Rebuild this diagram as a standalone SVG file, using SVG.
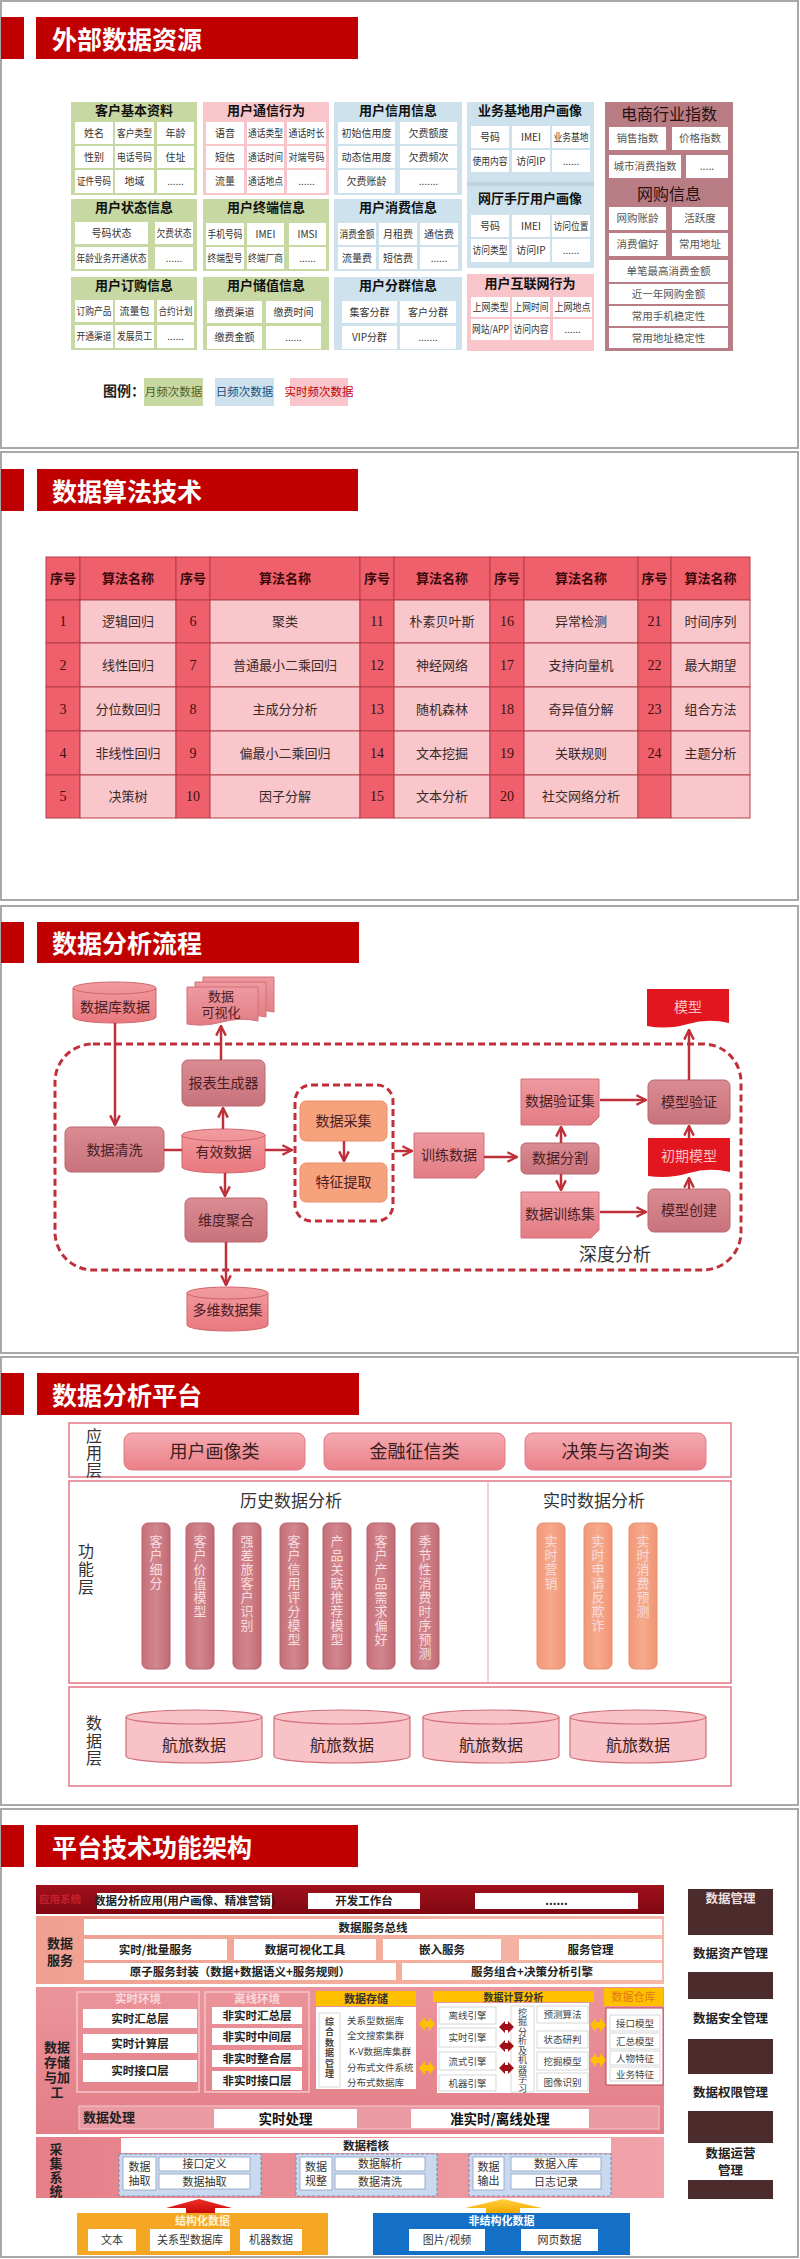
<svg xmlns="http://www.w3.org/2000/svg" width="800" height="2259" viewBox="0 0 800 2259">
<defs>
<style>
text{font-family:"Noto Sans CJK SC","Noto Sans",sans-serif}
.slide{fill:#fff;stroke:#a8a8a8;stroke-width:2}
.hdr{fill:#C00000}
.ht{font-size:25px;font-weight:bold;fill:#fff}
.w{fill:#fff}
.g{fill:#C7D8A3}
.p{fill:#F8C6CA}
.b{fill:#CDE2ED}
.m{fill:#B87C84}
.c1{font-size:10px;fill:#333;text-anchor:middle}
.c5{font-size:10.5px;fill:#555;text-anchor:middle}
.t1{font-size:13px;font-weight:bold;fill:#111;text-anchor:middle}
.t5{font-size:16px;fill:#2a1212;text-anchor:middle}
.th{fill:#EF5F6C;stroke:#B53E49;stroke-width:1}
.tn{fill:#EF5F6C;stroke:#B53E49;stroke-width:1}
.tb{fill:#F9C6CB;stroke:#B53E49;stroke-width:1}
.tht{font-size:13px;font-weight:bold;fill:#3a0a0a;text-anchor:middle}
.tt{font-size:13px;fill:#3a2a2a;text-anchor:middle}
.tnum{font-family:"Liberation Serif",serif;font-size:14px;fill:#3a1010;text-anchor:middle}
.rr{fill:url(#gMauve);stroke:#B86870;stroke-width:1}
.cy{fill:url(#gCyl);stroke:#D0656B;stroke-width:1}
.dc{fill:url(#gDoc);stroke:#D07078;stroke-width:1}
.or{fill:#F6A27D;stroke:#E8906A;stroke-width:1}
.rd{fill:#E3161F}
.nt{font-size:14px;fill:#4a2025;text-anchor:middle}
.cn{fill:none;stroke:#C0303A;stroke-width:2.5}
.dash{fill:none;stroke:#C0303A;stroke-width:3;stroke-dasharray:7 4}
.lay{fill:#fff;stroke:#E27584;stroke-width:1.5}
.vl{font-size:16px;fill:#333;writing-mode:vertical-rl;text-orientation:upright}
.pill{fill:url(#gPill);stroke:#E07C86;stroke-width:1}
.pt{font-size:18px;fill:#3a2020;text-anchor:middle}
.vp{fill:url(#gVp);stroke:#B5626B;stroke-width:1}
.vo{fill:url(#gVo);stroke:#E89070;stroke-width:1}
.vt{font-size:13px;fill:#F8DCDE;writing-mode:vertical-rl;text-orientation:upright;letter-spacing:1px}
.sub{font-size:17px;fill:#333;text-anchor:middle}
.dcy{fill:#F8C2C6;stroke:#D0707A;stroke-width:1.2}
.dt{font-size:16px;fill:#3a2020;text-anchor:middle}
.s5w{fill:#fff}
.s5b{font-size:11.5px;font-weight:bold;fill:#222;text-anchor:middle}
.s5l{font-size:13px;font-weight:bold;fill:#222;text-anchor:middle}
.s5s{font-size:9.5px;fill:#444;text-anchor:middle}
.s5sl{font-size:9.5px;fill:#444}
.s5v{font-size:9px;fill:#444;writing-mode:vertical-rl;text-orientation:upright}
.yh{fill:#FFC000}
.env{fill:none;stroke:#F4C4C8;stroke-width:1.5}
.envt{font-size:11.5px;font-weight:bold;fill:#F9DADC;text-anchor:middle}
.grp{fill:#C9D9F0;stroke:#7F90B8;stroke-width:1.2;stroke-dasharray:3 2}
.gc{fill:#fff;stroke:#8FA0C0;stroke-width:0.8}
.gt{font-size:11px;fill:#333;text-anchor:middle}
.dm{fill:#4B2B2B}
.dmt{font-size:12.5px;font-weight:bold;fill:#222;text-anchor:middle}
</style>
<linearGradient id="gMauve" x1="0" y1="0" x2="0" y2="1"><stop offset="0" stop-color="#DA8B92"/><stop offset="1" stop-color="#C9737C"/></linearGradient>
<linearGradient id="gCyl" x1="0" y1="0" x2="0" y2="1"><stop offset="0" stop-color="#F19CA0"/><stop offset="1" stop-color="#E9787E"/></linearGradient>
<linearGradient id="gDoc" x1="0" y1="0" x2="0" y2="1"><stop offset="0" stop-color="#EE9AA0"/><stop offset="1" stop-color="#E37C84"/></linearGradient>
<linearGradient id="gPill" x1="0" y1="0" x2="0" y2="1"><stop offset="0" stop-color="#F4AAB0"/><stop offset="1" stop-color="#EB7F88"/></linearGradient>
<linearGradient id="gVp" x1="0" y1="0" x2="1" y2="0"><stop offset="0" stop-color="#C56F79"/><stop offset="0.5" stop-color="#D2868E"/><stop offset="1" stop-color="#C06A74"/></linearGradient>
<linearGradient id="gVo" x1="0" y1="0" x2="1" y2="0"><stop offset="0" stop-color="#F29878"/><stop offset="0.5" stop-color="#F6AA8C"/><stop offset="1" stop-color="#F09474"/></linearGradient>
<linearGradient id="gApp" x1="0" y1="0" x2="0" y2="1"><stop offset="0" stop-color="#A0101C"/><stop offset="1" stop-color="#800812"/></linearGradient>
<linearGradient id="gSvc" x1="0" y1="0" x2="1" y2="0"><stop offset="0" stop-color="#F0A090"/><stop offset="1" stop-color="#F6B8A8"/></linearGradient>
<linearGradient id="gSto" x1="0" y1="0" x2="0" y2="1"><stop offset="0" stop-color="#EC949B"/><stop offset="1" stop-color="#E27E88"/></linearGradient>
<linearGradient id="gCol" x1="0" y1="0" x2="1" y2="0"><stop offset="0" stop-color="#E57F89"/><stop offset="1" stop-color="#F1A3A9"/></linearGradient>
<linearGradient id="gRedA" x1="0" y1="0" x2="0" y2="1"><stop offset="0" stop-color="#F0302A"/><stop offset="1" stop-color="#C80808"/></linearGradient>
<linearGradient id="gYelA" x1="0" y1="0" x2="0" y2="1"><stop offset="0" stop-color="#FFD040"/><stop offset="1" stop-color="#F5A800"/></linearGradient>
<marker id="ar" viewBox="0 0 10 10" refX="9" refY="5" markerWidth="12" markerHeight="12" markerUnits="userSpaceOnUse" orient="auto"><path d="M1,1 L9,5 L1,9" fill="none" stroke="#C0303A" stroke-width="2"/></marker>
</defs>

<!-- ================= Slide 1 ================= -->
<g id="slide1">
<rect class="slide" x="1" y="1" width="797" height="447"/>
<rect class="hdr" x="1" y="17" width="23" height="42"/>
<rect class="hdr" x="36" y="17" width="322" height="42"/>
<text class="ht" x="52" y="49">外部数据资源</text>
</g>

<g id="n-khjbzl">
<rect class="g" x="71" y="102" width="126" height="93"/>
<text class="t1" x="134" y="115">客户基本资料</text>
<rect class="w" x="75" y="122" width="38" height="22"/><text class="c1" x="94" y="136.5">姓名</text>
<rect class="w" x="115" y="122" width="39" height="22"/><text class="c1" x="134.5" y="136.5" textLength="35" lengthAdjust="spacingAndGlyphs">客户类型</text>
<rect class="w" x="157" y="122" width="37" height="22"/><text class="c1" x="175.5" y="136.5">年龄</text>
<rect class="w" x="75" y="146" width="38" height="22"/><text class="c1" x="94" y="160.5">性别</text>
<rect class="w" x="115" y="146" width="39" height="22"/><text class="c1" x="134.5" y="160.5" textLength="35" lengthAdjust="spacingAndGlyphs">电话号码</text>
<rect class="w" x="157" y="146" width="37" height="22"/><text class="c1" x="175.5" y="160.5">住址</text>
<rect class="w" x="75" y="170" width="38" height="23"/><text class="c1" x="94" y="185" textLength="34" lengthAdjust="spacingAndGlyphs">证件号码</text>
<rect class="w" x="115" y="170" width="39" height="23"/><text class="c1" x="134.5" y="185">地域</text>
<rect class="w" x="157" y="170" width="37" height="23"/><text class="c1" x="175.5" y="185">......</text>
</g>
<g id="n-yhztxx">
<rect class="g" x="71" y="199" width="126" height="72"/>
<text class="t1" x="134" y="212">用户状态信息</text>
<rect class="w" x="75" y="222" width="73" height="22"/><text class="c1" x="111.5" y="236.5">号码状态</text>
<rect class="w" x="155" y="222" width="38" height="22"/><text class="c1" x="174" y="236.5" textLength="35" lengthAdjust="spacingAndGlyphs">欠费状态</text>
<rect class="w" x="75" y="247" width="73" height="22"/><text class="c1" x="111.5" y="261.5" textLength="70" lengthAdjust="spacingAndGlyphs">年龄业务开通状态</text>
<rect class="w" x="155" y="247" width="38" height="22"/><text class="c1" x="174" y="261.5">......</text>
</g>
<g id="n-yhdgxx">
<rect class="g" x="71" y="277" width="126" height="73"/>
<text class="t1" x="134" y="290">用户订购信息</text>
<rect class="w" x="75" y="300" width="38" height="22"/><text class="c1" x="94" y="314.5" textLength="35" lengthAdjust="spacingAndGlyphs">订购产品</text>
<rect class="w" x="115" y="300" width="39" height="22"/><text class="c1" x="134.5" y="314.5">流量包</text>
<rect class="w" x="157" y="300" width="37" height="22"/><text class="c1" x="175.5" y="314.5" textLength="34" lengthAdjust="spacingAndGlyphs">合约计划</text>
<rect class="w" x="75" y="325" width="38" height="23"/><text class="c1" x="94" y="340" textLength="35" lengthAdjust="spacingAndGlyphs">开通渠道</text>
<rect class="w" x="115" y="325" width="39" height="23"/><text class="c1" x="134.5" y="340" textLength="35" lengthAdjust="spacingAndGlyphs">发展员工</text>
<rect class="w" x="157" y="325" width="37" height="23"/><text class="c1" x="175.5" y="340">......</text>
</g>

<g id="n-yhtxxw">
<rect class="p" x="203" y="102" width="126" height="93"/>
<text class="t1" x="266" y="115">用户通信行为</text>
<rect class="w" x="206" y="122" width="38" height="22"/><text class="c1" x="225" y="136.5">语音</text>
<rect class="w" x="247" y="122" width="37" height="22"/><text class="c1" x="265.5" y="136.5" textLength="35" lengthAdjust="spacingAndGlyphs">通话类型</text>
<rect class="w" x="287" y="122" width="39" height="22"/><text class="c1" x="306.5" y="136.5" textLength="36" lengthAdjust="spacingAndGlyphs">通话时长</text>
<rect class="w" x="206" y="146" width="38" height="22"/><text class="c1" x="225" y="160.5">短信</text>
<rect class="w" x="247" y="146" width="37" height="22"/><text class="c1" x="265.5" y="160.5" textLength="35" lengthAdjust="spacingAndGlyphs">通话时间</text>
<rect class="w" x="287" y="146" width="39" height="22"/><text class="c1" x="306.5" y="160.5" textLength="36" lengthAdjust="spacingAndGlyphs">对端号码</text>
<rect class="w" x="206" y="170" width="38" height="23"/><text class="c1" x="225" y="185">流量</text>
<rect class="w" x="247" y="170" width="37" height="23"/><text class="c1" x="265.5" y="185" textLength="35" lengthAdjust="spacingAndGlyphs">通话地点</text>
<rect class="w" x="287" y="170" width="39" height="23"/><text class="c1" x="306.5" y="185">......</text>
</g>
<g id="n-yhzdxx">
<rect class="g" x="203" y="199" width="126" height="72"/>
<text class="t1" x="266" y="212">用户终端信息</text>
<rect class="w" x="206" y="223" width="38" height="22"/><text class="c1" x="225" y="237.5" textLength="35" lengthAdjust="spacingAndGlyphs">手机号码</text>
<rect class="w" x="247" y="223" width="37" height="22"/><text class="c1" x="265.5" y="237.5">IMEI</text>
<rect class="w" x="289" y="223" width="37" height="22"/><text class="c1" x="307.5" y="237.5">IMSI</text>
<rect class="w" x="206" y="247" width="38" height="22"/><text class="c1" x="225" y="261.5" textLength="35" lengthAdjust="spacingAndGlyphs">终端型号</text>
<rect class="w" x="247" y="247" width="37" height="22"/><text class="c1" x="265.5" y="261.5" textLength="35" lengthAdjust="spacingAndGlyphs">终端厂商</text>
<rect class="w" x="289" y="247" width="37" height="22"/><text class="c1" x="307.5" y="261.5">......</text>
</g>
<g id="n-yhczxx">
<rect class="g" x="203" y="277" width="126" height="73"/>
<text class="t1" x="266" y="290">用户储值信息</text>
<rect class="w" x="207" y="301" width="55" height="22"/><text class="c1" x="234.5" y="315.5">缴费渠道</text>
<rect class="w" x="266" y="301" width="55" height="22"/><text class="c1" x="293.5" y="315.5">缴费时间</text>
<rect class="w" x="207" y="326" width="55" height="23"/><text class="c1" x="234.5" y="341">缴费金额</text>
<rect class="w" x="266" y="326" width="55" height="23"/><text class="c1" x="293.5" y="341">......</text>
</g>

<g id="n-yhxyxx">
<rect class="b" x="334" y="102" width="128" height="93"/>
<text class="t1" x="398" y="115">用户信用信息</text>
<rect class="w" x="338" y="122" width="57" height="22"/><text class="c1" x="366.5" y="136.5">初始信用度</text>
<rect class="w" x="400" y="122" width="57" height="22"/><text class="c1" x="428.5" y="136.5">欠费额度</text>
<rect class="w" x="338" y="146" width="57" height="22"/><text class="c1" x="366.5" y="160.5">动态信用度</text>
<rect class="w" x="400" y="146" width="57" height="22"/><text class="c1" x="428.5" y="160.5">欠费频次</text>
<rect class="w" x="338" y="170" width="57" height="23"/><text class="c1" x="366.5" y="185">欠费账龄</text>
<rect class="w" x="400" y="170" width="57" height="23"/><text class="c1" x="428.5" y="185">.......</text>
</g>
<g id="n-yhxfxx">
<rect class="b" x="334" y="199" width="128" height="72"/>
<text class="t1" x="398" y="212">用户消费信息</text>
<rect class="w" x="338" y="223" width="38" height="22"/><text class="c1" x="357" y="237.5" textLength="35" lengthAdjust="spacingAndGlyphs">消费金额</text>
<rect class="w" x="379" y="223" width="38" height="22"/><text class="c1" x="398" y="237.5">月租费</text>
<rect class="w" x="420" y="223" width="38" height="22"/><text class="c1" x="439" y="237.5">通信费</text>
<rect class="w" x="338" y="247" width="38" height="22"/><text class="c1" x="357" y="261.5">流量费</text>
<rect class="w" x="379" y="247" width="38" height="22"/><text class="c1" x="398" y="261.5">短信费</text>
<rect class="w" x="420" y="247" width="38" height="22"/><text class="c1" x="439" y="261.5">......</text>
</g>
<g id="n-yhfqxx">
<rect class="b" x="334" y="277" width="128" height="73"/>
<text class="t1" x="398" y="290">用户分群信息</text>
<rect class="w" x="342" y="301" width="55" height="22"/><text class="c1" x="369.5" y="315.5">集客分群</text>
<rect class="w" x="400" y="301" width="56" height="22"/><text class="c1" x="428" y="315.5">客户分群</text>
<rect class="w" x="342" y="326" width="55" height="23"/><text class="c1" x="369.5" y="341">VIP分群</text>
<rect class="w" x="400" y="326" width="56" height="23"/><text class="c1" x="428" y="341">.......</text>
</g>

<g id="n-ywjd">
<rect class="b" x="467" y="102" width="127" height="80"/>
<text class="t1" x="530" y="115">业务基地用户画像</text>
<rect class="w" x="471" y="126" width="38" height="22"/><text class="c1" x="490" y="140.5">号码</text>
<rect class="w" x="512" y="126" width="38" height="22"/><text class="c1" x="531" y="140.5">IMEI</text>
<rect class="w" x="552" y="126" width="38" height="22"/><text class="c1" x="571" y="140.5" textLength="35" lengthAdjust="spacingAndGlyphs">业务基地</text>
<rect class="w" x="471" y="150" width="38" height="22"/><text class="c1" x="490" y="164.5" textLength="35" lengthAdjust="spacingAndGlyphs">使用内容</text>
<rect class="w" x="512" y="150" width="38" height="22"/><text class="c1" x="531" y="164.5">访问IP</text>
<rect class="w" x="552" y="150" width="38" height="22"/><text class="c1" x="571" y="164.5">......</text>
</g>
<g id="n-wtst">
<rect fill="#BFD3DE" x="467" y="182" width="127" height="4"/>
<rect class="b" x="467" y="186" width="127" height="82"/>
<text class="t1" x="530" y="203">网厅手厅用户画像</text>
<rect class="w" x="471" y="215" width="38" height="22"/><text class="c1" x="490" y="229.5">号码</text>
<rect class="w" x="512" y="215" width="38" height="22"/><text class="c1" x="531" y="229.5">IMEI</text>
<rect class="w" x="552" y="215" width="38" height="22"/><text class="c1" x="571" y="229.5" textLength="35" lengthAdjust="spacingAndGlyphs">访问位置</text>
<rect class="w" x="471" y="239" width="38" height="23"/><text class="c1" x="490" y="254" textLength="35" lengthAdjust="spacingAndGlyphs">访问类型</text>
<rect class="w" x="512" y="239" width="38" height="23"/><text class="c1" x="531" y="254">访问IP</text>
<rect class="w" x="552" y="239" width="38" height="23"/><text class="c1" x="571" y="254">......</text>
</g>
<g id="n-yhhlw">
<rect class="p" x="467" y="274" width="127" height="77"/>
<text class="t1" x="530" y="288">用户互联网行为</text>
<rect class="w" x="471" y="297" width="39" height="20"/><text class="c1" x="490.5" y="310.5" textLength="36" lengthAdjust="spacingAndGlyphs">上网类型</text>
<rect class="w" x="512" y="297" width="38" height="20"/><text class="c1" x="531" y="310.5" textLength="35" lengthAdjust="spacingAndGlyphs">上网时间</text>
<rect class="w" x="553" y="297" width="39" height="20"/><text class="c1" x="572.5" y="310.5" textLength="36" lengthAdjust="spacingAndGlyphs">上网地点</text>
<rect class="w" x="471" y="319" width="39" height="21"/><text class="c1" x="490.5" y="333" textLength="37" lengthAdjust="spacingAndGlyphs">网站/APP</text>
<rect class="w" x="512" y="319" width="38" height="21"/><text class="c1" x="531" y="333" textLength="35" lengthAdjust="spacingAndGlyphs">访问内容</text>
<rect class="w" x="553" y="319" width="39" height="21"/><text class="c1" x="572.5" y="333">......</text>
</g>

<g id="n-dshy">
<rect class="m" x="605" y="102" width="128" height="249"/>
<text class="t5" x="669" y="120">电商行业指数</text>
<rect class="w" x="609" y="127" width="57" height="23"/><text class="c5" x="637.5" y="142">销售指数</text>
<rect class="w" x="672" y="127" width="56" height="23"/><text class="c5" x="700" y="142">价格指数</text>
<rect class="w" x="609" y="155" width="72" height="23"/><text class="c5" x="645" y="170">城市消费指数</text>
<rect class="w" x="686" y="155" width="42" height="23"/><text class="c5" x="707" y="170">.....</text>
<text class="t5" x="669" y="200">网购信息</text>
<rect class="w" x="609" y="207" width="57" height="23"/><text class="c5" x="637.5" y="222">网购账龄</text>
<rect class="w" x="672" y="207" width="56" height="23"/><text class="c5" x="700" y="222">活跃度</text>
<rect class="w" x="609" y="233" width="57" height="23"/><text class="c5" x="637.5" y="248">消费偏好</text>
<rect class="w" x="672" y="233" width="56" height="23"/><text class="c5" x="700" y="248">常用地址</text>
<rect class="w" x="609" y="260" width="119" height="22"/><text class="c5" x="668.5" y="274.5">单笔最高消费金额</text>
<rect class="w" x="609" y="284" width="119" height="20"/><text class="c5" x="668.5" y="297.5">近一年网购金额</text>
<rect class="w" x="609" y="306" width="119" height="20"/><text class="c5" x="668.5" y="319.5">常用手机稳定性</text>
<rect class="w" x="609" y="328" width="119" height="20"/><text class="c5" x="668.5" y="341.5">常用地址稳定性</text>
</g>

<g id="legend">
<text x="103" y="396" font-size="14" font-weight="bold" fill="#222">图例：</text>
<rect class="g" x="144" y="378" width="59" height="28"/><text x="173.5" y="396" font-size="11.5" fill="#4F6228" text-anchor="middle">月频次数据</text>
<rect class="b" x="215" y="378" width="59" height="28"/><text x="244.5" y="396" font-size="11.5" fill="#1F4E79" text-anchor="middle">日频次数据</text>
<rect class="p" x="290" y="378" width="58" height="28"/><text x="319" y="396" font-size="11.5" fill="#C00000" text-anchor="middle">实时频次数据</text>
</g>

<!-- ================= Slide 2 ================= -->
<g id="slide2">
<rect class="slide" x="1" y="452" width="797" height="448"/>
<rect class="hdr" x="1" y="469" width="23" height="42"/>
<rect class="hdr" x="37" y="469" width="321" height="42"/>
<text class="ht" x="52" y="501">数据算法技术</text>
</g>
<g id="n-table">
<rect class="th" x="46" y="557" width="34" height="43"/><rect class="th" x="80" y="557" width="96" height="43"/>
<rect class="th" x="176" y="557" width="34" height="43"/><rect class="th" x="210" y="557" width="150" height="43"/>
<rect class="th" x="360" y="557" width="34" height="43"/><rect class="th" x="394" y="557" width="96" height="43"/>
<rect class="th" x="490" y="557" width="34" height="43"/><rect class="th" x="524" y="557" width="114" height="43"/>
<rect class="th" x="638" y="557" width="33" height="43"/><rect class="th" x="671" y="557" width="79" height="43"/>
<text class="tht" x="63" y="583">序号</text><text class="tht" x="128" y="583">算法名称</text>
<text class="tht" x="193" y="583">序号</text><text class="tht" x="285" y="583">算法名称</text>
<text class="tht" x="377" y="583">序号</text><text class="tht" x="442" y="583">算法名称</text>
<text class="tht" x="507" y="583">序号</text><text class="tht" x="581" y="583">算法名称</text>
<text class="tht" x="654.5" y="583">序号</text><text class="tht" x="710.5" y="583">算法名称</text>
<g>
<rect class="tn" x="46" y="600" width="34" height="43"/><rect class="tb" x="80" y="600" width="96" height="43"/>
<rect class="tn" x="176" y="600" width="34" height="43"/><rect class="tb" x="210" y="600" width="150" height="43"/>
<rect class="tn" x="360" y="600" width="34" height="43"/><rect class="tb" x="394" y="600" width="96" height="43"/>
<rect class="tn" x="490" y="600" width="34" height="43"/><rect class="tb" x="524" y="600" width="114" height="43"/>
<rect class="tn" x="638" y="600" width="33" height="43"/><rect class="tb" x="671" y="600" width="79" height="43"/>
<rect class="tn" x="46" y="643" width="34" height="44"/><rect class="tb" x="80" y="643" width="96" height="44"/>
<rect class="tn" x="176" y="643" width="34" height="44"/><rect class="tb" x="210" y="643" width="150" height="44"/>
<rect class="tn" x="360" y="643" width="34" height="44"/><rect class="tb" x="394" y="643" width="96" height="44"/>
<rect class="tn" x="490" y="643" width="34" height="44"/><rect class="tb" x="524" y="643" width="114" height="44"/>
<rect class="tn" x="638" y="643" width="33" height="44"/><rect class="tb" x="671" y="643" width="79" height="44"/>
<rect class="tn" x="46" y="687" width="34" height="44"/><rect class="tb" x="80" y="687" width="96" height="44"/>
<rect class="tn" x="176" y="687" width="34" height="44"/><rect class="tb" x="210" y="687" width="150" height="44"/>
<rect class="tn" x="360" y="687" width="34" height="44"/><rect class="tb" x="394" y="687" width="96" height="44"/>
<rect class="tn" x="490" y="687" width="34" height="44"/><rect class="tb" x="524" y="687" width="114" height="44"/>
<rect class="tn" x="638" y="687" width="33" height="44"/><rect class="tb" x="671" y="687" width="79" height="44"/>
<rect class="tn" x="46" y="731" width="34" height="44"/><rect class="tb" x="80" y="731" width="96" height="44"/>
<rect class="tn" x="176" y="731" width="34" height="44"/><rect class="tb" x="210" y="731" width="150" height="44"/>
<rect class="tn" x="360" y="731" width="34" height="44"/><rect class="tb" x="394" y="731" width="96" height="44"/>
<rect class="tn" x="490" y="731" width="34" height="44"/><rect class="tb" x="524" y="731" width="114" height="44"/>
<rect class="tn" x="638" y="731" width="33" height="44"/><rect class="tb" x="671" y="731" width="79" height="44"/>
<rect class="tn" x="46" y="775" width="34" height="43"/><rect class="tb" x="80" y="775" width="96" height="43"/>
<rect class="tn" x="176" y="775" width="34" height="43"/><rect class="tb" x="210" y="775" width="150" height="43"/>
<rect class="tn" x="360" y="775" width="34" height="43"/><rect class="tb" x="394" y="775" width="96" height="43"/>
<rect class="tn" x="490" y="775" width="34" height="43"/><rect class="tb" x="524" y="775" width="114" height="43"/>
<rect class="tn" x="638" y="775" width="33" height="43"/><rect class="tb" x="671" y="775" width="79" height="43"/>
</g>
<text class="tnum" x="63" y="626">1</text><text class="tt" x="128" y="626">逻辑回归</text>
<text class="tnum" x="193" y="626">6</text><text class="tt" x="285" y="626">聚类</text>
<text class="tnum" x="377" y="626">11</text><text class="tt" x="442" y="626">朴素贝叶斯</text>
<text class="tnum" x="507" y="626">16</text><text class="tt" x="581" y="626">异常检测</text>
<text class="tnum" x="654.5" y="626">21</text><text class="tt" x="710.5" y="626">时间序列</text>
<text class="tnum" x="63" y="670">2</text><text class="tt" x="128" y="670">线性回归</text>
<text class="tnum" x="193" y="670">7</text><text class="tt" x="285" y="670">普通最小二乘回归</text>
<text class="tnum" x="377" y="670">12</text><text class="tt" x="442" y="670">神经网络</text>
<text class="tnum" x="507" y="670">17</text><text class="tt" x="581" y="670">支持向量机</text>
<text class="tnum" x="654.5" y="670">22</text><text class="tt" x="710.5" y="670">最大期望</text>
<text class="tnum" x="63" y="714">3</text><text class="tt" x="128" y="714">分位数回归</text>
<text class="tnum" x="193" y="714">8</text><text class="tt" x="285" y="714">主成分分析</text>
<text class="tnum" x="377" y="714">13</text><text class="tt" x="442" y="714">随机森林</text>
<text class="tnum" x="507" y="714">18</text><text class="tt" x="581" y="714">奇异值分解</text>
<text class="tnum" x="654.5" y="714">23</text><text class="tt" x="710.5" y="714">组合方法</text>
<text class="tnum" x="63" y="758">4</text><text class="tt" x="128" y="758">非线性回归</text>
<text class="tnum" x="193" y="758">9</text><text class="tt" x="285" y="758">偏最小二乘回归</text>
<text class="tnum" x="377" y="758">14</text><text class="tt" x="442" y="758">文本挖掘</text>
<text class="tnum" x="507" y="758">19</text><text class="tt" x="581" y="758">关联规则</text>
<text class="tnum" x="654.5" y="758">24</text><text class="tt" x="710.5" y="758">主题分析</text>
<text class="tnum" x="63" y="801">5</text><text class="tt" x="128" y="801">决策树</text>
<text class="tnum" x="193" y="801">10</text><text class="tt" x="285" y="801">因子分解</text>
<text class="tnum" x="377" y="801">15</text><text class="tt" x="442" y="801">文本分析</text>
<text class="tnum" x="507" y="801">20</text><text class="tt" x="581" y="801">社交网络分析</text>
</g>

<!-- ================= Slide 3 ================= -->
<g id="slide3">
<rect class="slide" x="1" y="906" width="797" height="447"/>
<rect class="hdr" x="1" y="922" width="23" height="41"/>
<rect class="hdr" x="37" y="922" width="322" height="41"/>
<text class="ht" x="52" y="953">数据分析流程</text>
</g>
<g id="n-deep">
<rect class="dash" x="55" y="1044" width="686" height="226" rx="38"/>
<text x="615" y="1261" font-size="18" fill="#333" text-anchor="middle">深度分析</text>
</g>
<g id="n-inner">
<rect class="dash" x="295" y="1085" width="98" height="136" rx="16"/>
</g>
<g id="n-dbdata">
<path class="cy" d="M73,988 A41.5,6 0 0 1 156,988 V1017 A41.5,6 0 0 1 73,1017 Z"/>
<path d="M73,988 A41.5,6 0 0 0 156,988" fill="none" stroke="#D0656B"/>
<text class="nt" x="115" y="1012">数据库数据</text>
</g>
<g id="n-vis">
<path class="dc" d="M203,977 H274 V1012 Q256,1008 238,1013 T203,1014 Z"/>
<path class="dc" d="M195,982 H266 V1017 Q248,1013 230,1018 T195,1019 Z"/>
<path class="dc" d="M187,987 H258 V1021 Q240,1017 222,1022 T187,1024 Z"/>
<text x="221" y="1001" font-size="13" fill="#4a2025" text-anchor="middle">数据</text>
<text x="221" y="1017" font-size="13" fill="#4a2025" text-anchor="middle">可视化</text>
</g>
<g id="n-model">
<path class="rd" d="M647,989 H729 V1023 Q708,1018 688,1024 T647,1026 Z"/>
<text x="688" y="1012" font-size="14" fill="#F8C0C4" text-anchor="middle">模型</text>
</g>
<g id="n-clean"><rect class="rr" x="65" y="1127" width="99" height="45" rx="6"/><text class="nt" x="114.5" y="1155">数据清洗</text></g>
<g id="n-valid">
<path class="cy" d="M182,1135 A41.5,6 0 0 1 265,1135 V1167 A41.5,6 0 0 1 182,1167 Z"/>
<path d="M182,1135 A41.5,6 0 0 0 265,1135" fill="none" stroke="#D0656B"/>
<text class="nt" x="223.5" y="1157">有效数据</text>
</g>
<g id="n-report"><rect class="rr" x="182" y="1060" width="83" height="46" rx="6"/><text class="nt" x="223.5" y="1088">报表生成器</text></g>
<g id="n-dim"><rect class="rr" x="185" y="1198" width="82" height="44" rx="6"/><text class="nt" x="226" y="1225">维度聚合</text></g>
<g id="n-cube">
<path class="cy" d="M187,1293 A40.5,6 0 0 1 268,1293 V1325 A40.5,6 0 0 1 187,1325 Z"/>
<path d="M187,1293 A40.5,6 0 0 0 268,1293" fill="none" stroke="#D0656B"/>
<text class="nt" x="227.5" y="1315">多维数据集</text>
</g>
<g id="n-collect"><rect class="or" x="300" y="1101" width="87" height="40" rx="6"/><text class="nt" x="343.5" y="1126">数据采集</text></g>
<g id="n-feature"><rect class="or" x="300" y="1163" width="87" height="39" rx="6"/><text class="nt" x="343.5" y="1187">特征提取</text></g>
<g id="n-train"><path class="dc" d="M414,1133 H484 V1170 L476,1178 H414 Z"/><text class="nt" x="449" y="1160">训练数据</text></g>
<g id="n-vset"><path class="dc" d="M521,1079 H599 V1117 L591,1125 H521 Z"/><text class="nt" x="560" y="1106">数据验证集</text></g>
<g id="n-split"><rect class="rr" x="521" y="1143" width="78" height="31" rx="5"/><text class="nt" x="560" y="1163">数据分割</text></g>
<g id="n-tset"><path class="dc" d="M521,1192 H599 V1230 L591,1238 H521 Z"/><text class="nt" x="560" y="1219">数据训练集</text></g>
<g id="n-mval"><rect class="rr" x="648" y="1080" width="82" height="44" rx="6"/><text class="nt" x="689" y="1107">模型验证</text></g>
<g id="n-init">
<path class="rd" d="M648,1138 H730 V1172 Q709,1167 689,1173 T648,1176 Z"/>
<text x="689" y="1161" font-size="14" fill="#F8C0C4" text-anchor="middle">初期模型</text>
</g>
<g id="n-mcreate"><rect class="rr" x="648" y="1189" width="82" height="43" rx="6"/><text class="nt" x="689" y="1215">模型创建</text></g>

<g id="connectors3">
<path class="cn" marker-end="url(#ar)" d="M115,1023 V1125"/>
<path class="cn" d="M164,1150 H182"/>
<path class="cn" marker-end="url(#ar)" d="M223,1129 V1108"/>
<path class="cn" marker-end="url(#ar)" d="M221,1060 V1026"/>
<path class="cn" marker-end="url(#ar)" d="M265,1150 H292"/>
<path class="cn" marker-end="url(#ar)" d="M344,1141 V1161"/>
<path class="cn" marker-end="url(#ar)" d="M225,1173 V1196"/>
<path class="cn" marker-end="url(#ar)" d="M226,1242 V1285"/>
<path class="cn" marker-end="url(#ar)" d="M394,1151 H412"/>
<path class="cn" marker-end="url(#ar)" d="M484,1157 H517"/>
<path class="cn" marker-end="url(#ar)" d="M561,1143 V1127"/>
<path class="cn" marker-end="url(#ar)" d="M561,1174 V1190"/>
<path class="cn" marker-end="url(#ar)" d="M600,1100 H646"/>
<path class="cn" marker-end="url(#ar)" d="M600,1212 H646"/>
<path class="cn" marker-end="url(#ar)" d="M689,1189 V1178"/>
<path class="cn" marker-end="url(#ar)" d="M689,1138 V1126"/>
<path class="cn" marker-end="url(#ar)" d="M689,1080 V1030"/>
</g>

<!-- ================= Slide 4 ================= -->
<g id="slide4">
<rect class="slide" x="1" y="1357" width="797" height="448"/>
<rect class="hdr" x="1" y="1373" width="23" height="42"/>
<rect class="hdr" x="37" y="1373" width="322" height="42"/>
<text class="ht" x="52" y="1405">数据分析平台</text>
</g>
<g id="n-applayer">
<rect class="lay" x="69" y="1423" width="662" height="54"/>
<text class="vl" x="94" y="1428" letter-spacing="1">应用层</text>
<rect class="pill" x="124" y="1433" width="181" height="37" rx="8"/><text class="pt" x="214.5" y="1458">用户画像类</text>
<rect class="pill" x="324" y="1433" width="181" height="37" rx="8"/><text class="pt" x="414.5" y="1458">金融征信类</text>
<rect class="pill" x="525" y="1433" width="181" height="37" rx="8"/><text class="pt" x="615.5" y="1458">决策与咨询类</text>
</g>
<g id="n-funclayer">
<rect class="lay" x="69" y="1481" width="662" height="202"/>
<line x1="488" y1="1481" x2="488" y2="1683" stroke="#E8A0A8" stroke-width="1"/>
<text class="vl" x="86" y="1543" letter-spacing="2">功能层</text>
<text class="sub" x="291" y="1507">历史数据分析</text>
<text class="sub" x="594" y="1507">实时数据分析</text>
</g>
<g id="n-hist-pills">
<rect class="vp" x="142" y="1523" width="28" height="146" rx="6"/><text class="vt" x="156" y="1535">客户细分</text>
<rect class="vp" x="186" y="1523" width="28" height="146" rx="6"/><text class="vt" x="200" y="1535">客户价值模型</text>
<rect class="vp" x="233" y="1523" width="28" height="146" rx="6"/><text class="vt" x="247" y="1535">强差旅客户识别</text>
<rect class="vp" x="280" y="1523" width="28" height="146" rx="6"/><text class="vt" x="294" y="1535">客户信用评分模型</text>
<rect class="vp" x="323" y="1523" width="28" height="146" rx="6"/><text class="vt" x="337" y="1535">产品关联推荐模型</text>
<rect class="vp" x="367" y="1523" width="28" height="146" rx="6"/><text class="vt" x="381" y="1535">客户产品需求偏好</text>
<rect class="vp" x="411" y="1523" width="28" height="146" rx="6"/><text class="vt" x="425" y="1535">季节性消费时序预测</text>
</g>
<g id="n-rt-pills">
<rect class="vo" x="537" y="1523" width="28" height="146" rx="6"/><text class="vt" x="551" y="1535">实时营销</text>
<rect class="vo" x="584" y="1523" width="28" height="146" rx="6"/><text class="vt" x="598" y="1535">实时申请反欺诈</text>
<rect class="vo" x="629" y="1523" width="28" height="146" rx="6"/><text class="vt" x="643" y="1535">实时消费预测</text>
</g>
<g id="n-datalayer">
<rect class="lay" x="69" y="1687" width="662" height="99"/>
<text class="vl" x="94" y="1715" letter-spacing="1.5">数据层</text>
<path class="dcy" d="M126,1717 A68,7 0 0 1 262,1717 V1756 A68,7 0 0 1 126,1756 Z"/><path d="M126,1717 A68,7 0 0 0 262,1717" fill="none" stroke="#D0707A" stroke-width="1.2"/>
<text class="dt" x="194" y="1751">航旅数据</text>
<path class="dcy" d="M274,1717 A68,7 0 0 1 410,1717 V1756 A68,7 0 0 1 274,1756 Z"/><path d="M274,1717 A68,7 0 0 0 410,1717" fill="none" stroke="#D0707A" stroke-width="1.2"/>
<text class="dt" x="342" y="1751">航旅数据</text>
<path class="dcy" d="M423,1717 A68,7 0 0 1 559,1717 V1756 A68,7 0 0 1 423,1756 Z"/><path d="M423,1717 A68,7 0 0 0 559,1717" fill="none" stroke="#D0707A" stroke-width="1.2"/>
<text class="dt" x="491" y="1751">航旅数据</text>
<path class="dcy" d="M570,1717 A68,7 0 0 1 706,1717 V1756 A68,7 0 0 1 570,1756 Z"/><path d="M570,1717 A68,7 0 0 0 706,1717" fill="none" stroke="#D0707A" stroke-width="1.2"/>
<text class="dt" x="638" y="1751">航旅数据</text>
</g>

<!-- ================= Slide 5 ================= -->
<g id="slide5">
<rect class="slide" x="1" y="1809" width="797" height="448"/>
<rect class="hdr" x="1" y="1825" width="23" height="42"/>
<rect class="hdr" x="36" y="1825" width="322" height="42"/>
<text class="ht" x="52" y="1857">平台技术功能架构</text>
</g>
<g id="n-appsys">
<rect fill="url(#gApp)" x="36" y="1885" width="628" height="29"/>
<text x="60" y="1903" font-size="10.5" font-weight="bold" fill="#C8202C" text-anchor="middle">应用系统</text>
<rect class="s5w" x="97" y="1893" width="175" height="16"/><text class="s5b" x="184.5" y="1905">数据分析应用(用户画像、精准营销)</text>
<rect class="s5w" x="308" y="1893" width="112" height="16"/><text class="s5b" x="364" y="1905">开发工作台</text>
<rect class="s5w" x="475" y="1893" width="163" height="16"/><text class="s5b" x="556.5" y="1905">......</text>
</g>
<g id="n-datasvc">
<rect fill="url(#gSvc)" x="36" y="1916" width="628" height="68"/>
<text class="s5l" x="60" y="1948">数据</text><text class="s5l" x="60" y="1965">服务</text>
<rect class="s5w" x="84" y="1919" width="578" height="16"/><text class="s5b" x="373" y="1932">数据服务总线</text>
<rect class="s5w" x="84" y="1939" width="143" height="21"/><text class="s5b" x="155.5" y="1954">实时/批量服务</text>
<rect class="s5w" x="234" y="1939" width="142" height="21"/><text class="s5b" x="305" y="1954">数据可视化工具</text>
<rect class="s5w" x="383" y="1939" width="118" height="21"/><text class="s5b" x="442" y="1954">嵌入服务</text>
<rect class="s5w" x="519" y="1939" width="143" height="21"/><text class="s5b" x="590.5" y="1954">服务管理</text>
<rect class="s5w" x="84" y="1963" width="312" height="17"/><text class="s5b" x="240" y="1976">原子服务封装（数据+数据语义+服务规则）</text>
<rect class="s5w" x="402" y="1963" width="260" height="17"/><text class="s5b" x="532" y="1976">服务组合+决策分析引擎</text>
</g>
<g id="n-storage-proc">
<rect fill="url(#gSto)" x="36" y="1987" width="628" height="147"/>
<text class="s5l" x="57" y="2052">数据</text><text class="s5l" x="57" y="2067">存储</text><text class="s5l" x="57" y="2082">与加</text><text class="s5l" x="57" y="2097">工</text>
</g>
<g id="n-rtenv">
<rect class="env" x="77" y="1992" width="122" height="100"/>
<text class="envt" x="138" y="2003">实时环境</text>
<rect class="s5w" x="83" y="2009" width="114" height="19"/><text class="s5b" x="140" y="2023">实时汇总层</text>
<rect class="s5w" x="83" y="2034" width="114" height="19"/><text class="s5b" x="140" y="2048">实时计算层</text>
<rect class="s5w" x="83" y="2060" width="114" height="22"/><text class="s5b" x="140" y="2075">实时接口层</text>
</g>
<g id="n-offenv">
<rect class="env" x="205" y="1992" width="104" height="100"/>
<text class="envt" x="257" y="2003">离线环境</text>
<rect class="s5w" x="212" y="2007" width="90" height="17"/><text class="s5b" x="257" y="2020">非实时汇总层</text>
<rect class="s5w" x="212" y="2028" width="90" height="17"/><text class="s5b" x="257" y="2041">非实时中间层</text>
<rect class="s5w" x="212" y="2050" width="90" height="17"/><text class="s5b" x="257" y="2063">非实时整合层</text>
<rect class="s5w" x="212" y="2071" width="90" height="19"/><text class="s5b" x="257" y="2085">非实时接口层</text>
</g>
<g id="n-store">
<rect class="yh" x="316" y="1991" width="100" height="15"/>
<text x="366" y="2003" font-size="11" font-weight="bold" fill="#333" text-anchor="middle">数据存储</text>
<rect class="s5w" x="316" y="2007" width="100" height="82"/>
<rect fill="#fff" stroke="#ccc" stroke-width="0.8" x="319" y="2013" width="21" height="74"/>
<text class="s5v" x="329.5" y="2017" font-weight="bold" font-size="10" letter-spacing="1.5">综合数据管理</text>
<text class="s5sl" x="347" y="2024">关系型数据库</text>
<text class="s5sl" x="347" y="2039">全文搜索集群</text>
<text class="s5sl" x="349" y="2055">K-V数据库集群</text>
<text class="s5sl" x="347" y="2071">分布式文件系统</text>
<text class="s5sl" x="347" y="2086">分布式数据库</text>
</g>
<g id="n-compute">
<rect class="yh" x="433" y="1991" width="161" height="11"/>
<text x="513.5" y="2001" font-size="10" font-weight="bold" fill="#333" text-anchor="middle">数据计算分析</text>
<rect class="s5w" x="437" y="2003" width="152" height="90"/>
<rect fill="#fff" stroke="#ccc" stroke-width="0.8" x="439" y="2007" width="57" height="17"/><text class="s5s" x="467.5" y="2019">离线引擎</text>
<rect fill="#fff" stroke="#ccc" stroke-width="0.8" x="439" y="2028" width="57" height="19"/><text class="s5s" x="467.5" y="2041">实时引擎</text>
<rect fill="#fff" stroke="#ccc" stroke-width="0.8" x="439" y="2052" width="57" height="18"/><text class="s5s" x="467.5" y="2065">流式引擎</text>
<rect fill="#fff" stroke="#ccc" stroke-width="0.8" x="439" y="2075" width="57" height="16"/><text class="s5s" x="467.5" y="2087">机器引擎</text>
<rect fill="#fff" stroke="#ccc" stroke-width="0.8" x="511" y="2006" width="23" height="86"/>
<text class="s5v" x="522.5" y="2008" letter-spacing="0.5">挖掘分析及机器学习</text>
<rect fill="#fff" stroke="#ccc" stroke-width="0.8" x="537" y="2006" width="51" height="17"/><text class="s5s" x="562.5" y="2018">预测算法</text>
<rect fill="#fff" stroke="#ccc" stroke-width="0.8" x="537" y="2031" width="51" height="17"/><text class="s5s" x="562.5" y="2043">状态研判</text>
<rect fill="#fff" stroke="#ccc" stroke-width="0.8" x="537" y="2052" width="51" height="18"/><text class="s5s" x="562.5" y="2065">挖掘模型</text>
<rect fill="#fff" stroke="#ccc" stroke-width="0.8" x="537" y="2073" width="51" height="18"/><text class="s5s" x="562.5" y="2086">图像识别</text>
</g>
<g id="n-dw">
<rect class="yh" x="604" y="1988" width="59" height="18"/>
<text x="633.5" y="2001" font-size="11" fill="#E07818" text-anchor="middle">数据仓库</text>
<rect fill="#fff" stroke="#C04050" stroke-width="1" x="606" y="2008" width="57" height="77"/>
<rect fill="#fff" stroke="#ccc" stroke-width="0.8" x="610" y="2015" width="50" height="16"/><text class="s5s" x="635" y="2027">接口模型</text>
<rect fill="#fff" stroke="#ccc" stroke-width="0.8" x="610" y="2033" width="50" height="16"/><text class="s5s" x="635" y="2045">汇总模型</text>
<rect fill="#fff" stroke="#ccc" stroke-width="0.8" x="610" y="2051" width="50" height="14"/><text class="s5s" x="635" y="2062">人物特征</text>
<rect fill="#fff" stroke="#ccc" stroke-width="0.8" x="610" y="2067" width="50" height="14"/><text class="s5s" x="635" y="2078">业务特征</text>
</g>
<g id="n-proc">
<rect fill="#EA9AA2" stroke="#F5C6CA" stroke-width="1" x="79" y="2106" width="580" height="23"/>
<text x="109" y="2122" font-size="13" font-weight="bold" fill="#222" text-anchor="middle">数据处理</text>
<rect class="s5w" x="214" y="2109" width="143" height="19"/><text x="285.5" y="2124" font-size="13.5" font-weight="bold" fill="#111" text-anchor="middle">实时处理</text>
<rect class="s5w" x="411" y="2109" width="178" height="19"/><text x="500" y="2124" font-size="13.5" font-weight="bold" fill="#111" text-anchor="middle">准实时/离线处理</text>
</g>
<g id="n-collect-sys">
<rect fill="url(#gCol)" x="36" y="2137" width="628" height="61"/>
<text x="56" y="2143" font-size="13" font-weight="bold" fill="#222" letter-spacing="0.7" style="writing-mode:vertical-rl;text-orientation:upright">采集系统</text>
<rect class="s5w" x="121" y="2138" width="490" height="15"/><text class="s5b" x="366" y="2150">数据稽核</text>
<rect class="grp" x="119" y="2154" width="142" height="42"/>
<rect class="gc" x="123" y="2157" width="33" height="33"/><text class="gt" x="139.5" y="2171">数据</text><text class="gt" x="139.5" y="2185">抽取</text>
<rect class="gc" x="159" y="2157" width="91" height="14"/><text class="gt" x="204.5" y="2168">接口定义</text>
<rect class="gc" x="159" y="2174" width="91" height="15"/><text class="gt" x="204.5" y="2186">数据抽取</text>
<rect class="grp" x="296" y="2154" width="141" height="42"/>
<rect class="gc" x="300" y="2157" width="32" height="33"/><text class="gt" x="316" y="2171">数据</text><text class="gt" x="316" y="2185">规整</text>
<rect class="gc" x="335" y="2157" width="90" height="14"/><text class="gt" x="380" y="2168">数据解析</text>
<rect class="gc" x="335" y="2174" width="90" height="15"/><text class="gt" x="380" y="2186">数据清洗</text>
<rect class="grp" x="469" y="2154" width="142" height="42"/>
<rect class="gc" x="473" y="2157" width="31" height="33"/><text class="gt" x="488.5" y="2171">数据</text><text class="gt" x="488.5" y="2185">输出</text>
<rect class="gc" x="511" y="2157" width="90" height="14"/><text class="gt" x="556" y="2168">数据入库</text>
<rect class="gc" x="511" y="2174" width="90" height="15"/><text class="gt" x="556" y="2186">日志记录</text>
</g>
<g id="n-struct">
<rect fill="#F5A623" x="77" y="2213" width="251" height="42"/>
<text x="202.5" y="2225" font-size="11" font-weight="bold" fill="#FFF3D0" text-anchor="middle">结构化数据</text>
<rect class="s5w" x="88" y="2229" width="48" height="22"/><text class="gt" x="112" y="2244">文本</text>
<rect class="s5w" x="150" y="2229" width="80" height="22"/><text class="gt" x="190" y="2244">关系型数据库</text>
<rect class="s5w" x="240" y="2229" width="62" height="22"/><text class="gt" x="271" y="2244">机器数据</text>
</g>
<g id="n-unstruct">
<rect fill="#1370C6" x="373" y="2213" width="257" height="42"/>
<text x="501.5" y="2225" font-size="11" font-weight="bold" fill="#fff" text-anchor="middle">非结构化数据</text>
<rect class="s5w" x="409" y="2229" width="76" height="22"/><text class="gt" x="447" y="2244">图片/视频</text>
<rect class="s5w" x="521" y="2229" width="77" height="22"/><text class="gt" x="559.5" y="2244">网页数据</text>
</g>
<g id="n-dm">
<rect class="dm" x="688" y="1889" width="85" height="310"/>
<text x="730.5" y="1903" font-size="12.5" font-weight="bold" fill="#F0E0E0" text-anchor="middle">数据管理</text>
<rect class="s5w" x="688" y="1935" width="85" height="37"/><text class="dmt" x="730.5" y="1958">数据资产管理</text>
<rect class="s5w" x="688" y="1999" width="85" height="40"/><text class="dmt" x="730.5" y="2023">数据安全管理</text>
<rect class="s5w" x="688" y="2074" width="85" height="37"/><text class="dmt" x="730.5" y="2097">数据权限管理</text>
<rect class="s5w" x="688" y="2143" width="85" height="37"/><text class="dmt" x="730.5" y="2158">数据运营</text><text class="dmt" x="730.5" y="2175">管理</text>
</g>
<g id="connectors5">
<path fill="#FFC000" d="M419,2024 L425,2017 V2021 H429 V2017 L435,2024 L429,2031 V2027 H425 V2031 Z"/>
<path fill="#FFC000" d="M419,2068 L425,2061 V2065 H429 V2061 L435,2068 L429,2075 V2071 H425 V2075 Z"/>
<path fill="#FFC000" d="M590,2025 L596,2018 V2022 H600 V2018 L606,2025 L600,2032 V2028 H596 V2032 Z"/>
<path fill="#FFC000" d="M590,2060 L596,2053 V2057 H600 V2053 L606,2060 L600,2067 V2063 H596 V2067 Z"/>
<path fill="#A01018" d="M499,2027 L505,2021 V2024 H508 V2021 L514,2027 L508,2033 V2030 H505 V2033 Z"/>
<path fill="#A01018" d="M499,2046 L505,2040 V2043 H508 V2040 L514,2046 L508,2052 V2049 H505 V2052 Z"/>
<path fill="#A01018" d="M499,2068 L505,2062 V2065 H508 V2062 L514,2068 L508,2074 V2071 H505 V2074 Z"/>
<path fill="url(#gRedA)" d="M166,2208 L199,2199 L232,2208 H215 V2213 H186 V2208 Z"/>
<path fill="url(#gYelA)" d="M465,2208 L503,2199 L542,2208 H520 V2213 H486 V2208 Z"/>
</g>
</svg>
